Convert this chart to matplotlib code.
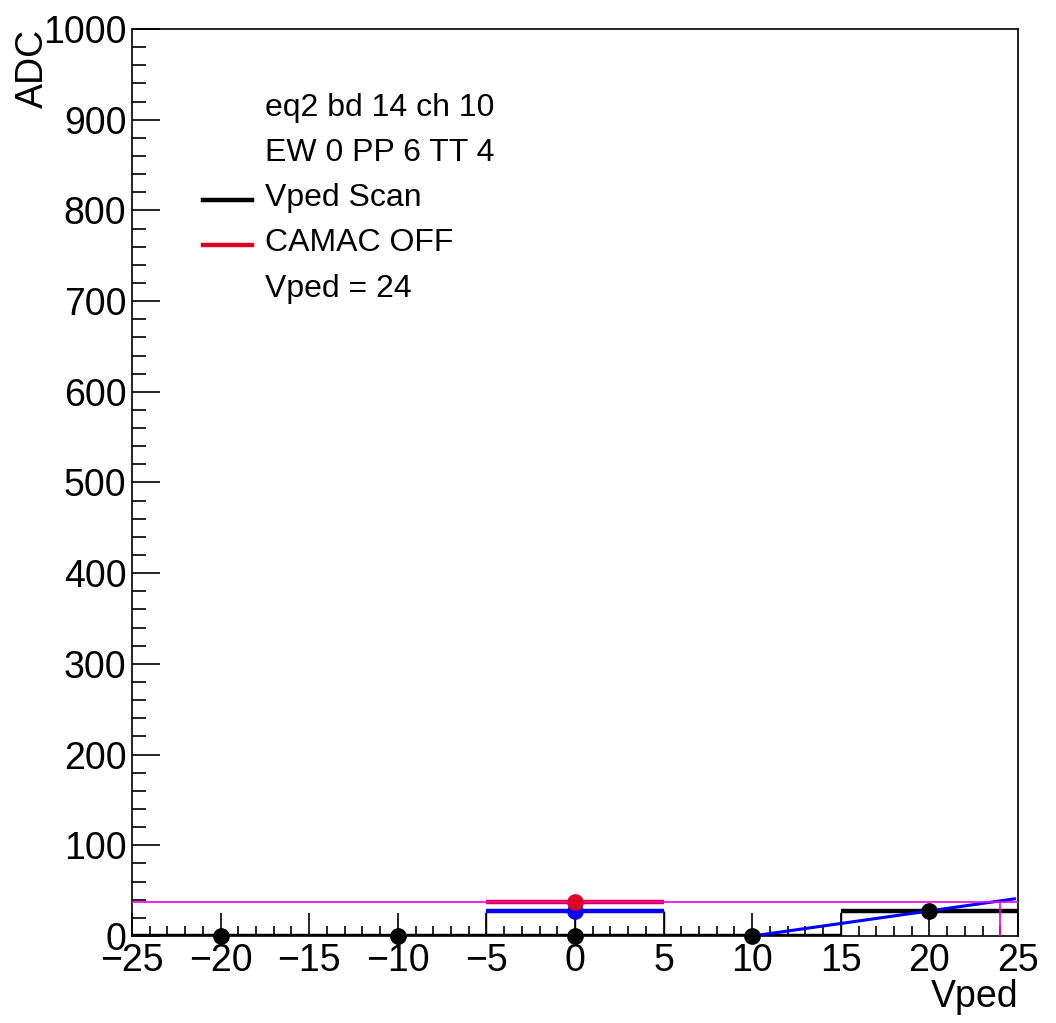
import matplotlib.pyplot as plt
from matplotlib.ticker import MultipleLocator

plt.rcParams['font.family'] = ['Liberation Sans', 'DejaVu Sans']

# Vped scan histogram (bin edges and contents)
scan_edges = [-25, -15, -5, 5, 15, 25]
scan_vals = [0, 0, 0, 0, 28]
scan_x = [-20, -10, 0, 10, 20]
scan_y = [0, 0, 0, 0, 28]

# single-bin histograms around 0
blue_edges = [-5, 5]
blue_val = 28
red_edges = [-5, 5]
red_val = 38

# linear fit
fit_x = [10, 24.8]
fit_y = [0, 41]

# CAMAC OFF level and chosen Vped
camac_level = 38
vped_sel = 24

legend_lines = ['eq2 bd 14 ch 10', 'EW 0 PP 6 TT 4', 'Vped Scan', 'CAMAC OFF', 'Vped = 24']

fig = plt.figure(figsize=(10.56, 10.23), dpi=100)
ax = fig.add_axes([0.125, 0.085, 0.839, 0.8867])

# black histogram: thick horizontal, thin vertical edges
for i in range(len(scan_vals)):
    ax.hlines(scan_vals[i], scan_edges[i], scan_edges[i + 1], color='black', lw=3.2, zorder=3)
for i in range(1, len(scan_vals)):
    if scan_vals[i] != scan_vals[i - 1]:
        ax.vlines(scan_edges[i], scan_vals[i - 1], scan_vals[i], color='black', lw=1, zorder=3)

# blue histogram
ax.hlines(blue_val, blue_edges[0], blue_edges[1], color='#0000ff', lw=3.2, zorder=4)
ax.vlines(blue_edges, 0, blue_val, color='black', lw=1, zorder=2)
ax.vlines(0, 0, blue_val, color='black', lw=1, zorder=2)

# red histogram
ax.hlines(red_val, red_edges[0], red_edges[1], color='#dd0022', lw=3.2, zorder=5)

# fit line
ax.plot(fit_x, fit_y, color='#0000ff', lw=2.2, zorder=6)

# markers
ax.plot(scan_x, scan_y, 'o', color='black', ms=11, zorder=7, clip_on=False)
ax.plot([0], [blue_val], 'o', color='#0000ff', ms=11, zorder=7)
ax.plot([0], [red_val], 'o', color='#dd0022', ms=11, zorder=8)

# magenta marks
ax.axhline(camac_level, color='#ee00ee', lw=1.2, zorder=7.5)
ax.vlines(vped_sel, 0, camac_level, color='#ee00ee', lw=1.2, zorder=7.5)

ax.set_xlim(-25, 25)
ax.set_ylim(0, 1000)
ax.xaxis.set_major_locator(MultipleLocator(5))
ax.xaxis.set_minor_locator(MultipleLocator(1))
ax.yaxis.set_major_locator(MultipleLocator(100))
ax.yaxis.set_minor_locator(MultipleLocator(20))
ax.tick_params(which='both', direction='in', labelsize=27, width=1.2)
ax.tick_params(axis='x', which='major', length=16.5, pad=5)
ax.tick_params(axis='x', which='minor', length=7.5)
ax.tick_params(axis='y', which='major', length=20, pad=4)
ax.tick_params(axis='y', which='minor', length=10)
for s in ax.spines.values():
    s.set_linewidth(1.2)

ax.set_xlabel('Vped', fontsize=27, loc='right', labelpad=0)
ax.set_ylabel('ADC', fontsize=27, loc='top', labelpad=-5.5)

# legend text block
ys = [108, 153, 198, 243, 289]
for txt, yp in zip(legend_lines, ys):
    fig.text(265 / 1056, 1 - yp / 1023, txt, fontsize=23, va='center', ha='left')
fig.add_artist(plt.Line2D([203 / 1056, 252 / 1056], [1 - 200 / 1023] * 2, color='black', lw=3.2))
fig.add_artist(plt.Line2D([203 / 1056, 252 / 1056], [1 - 245 / 1023] * 2, color='#dd0022', lw=3.2))

fig.savefig('out.png', dpi=100)
